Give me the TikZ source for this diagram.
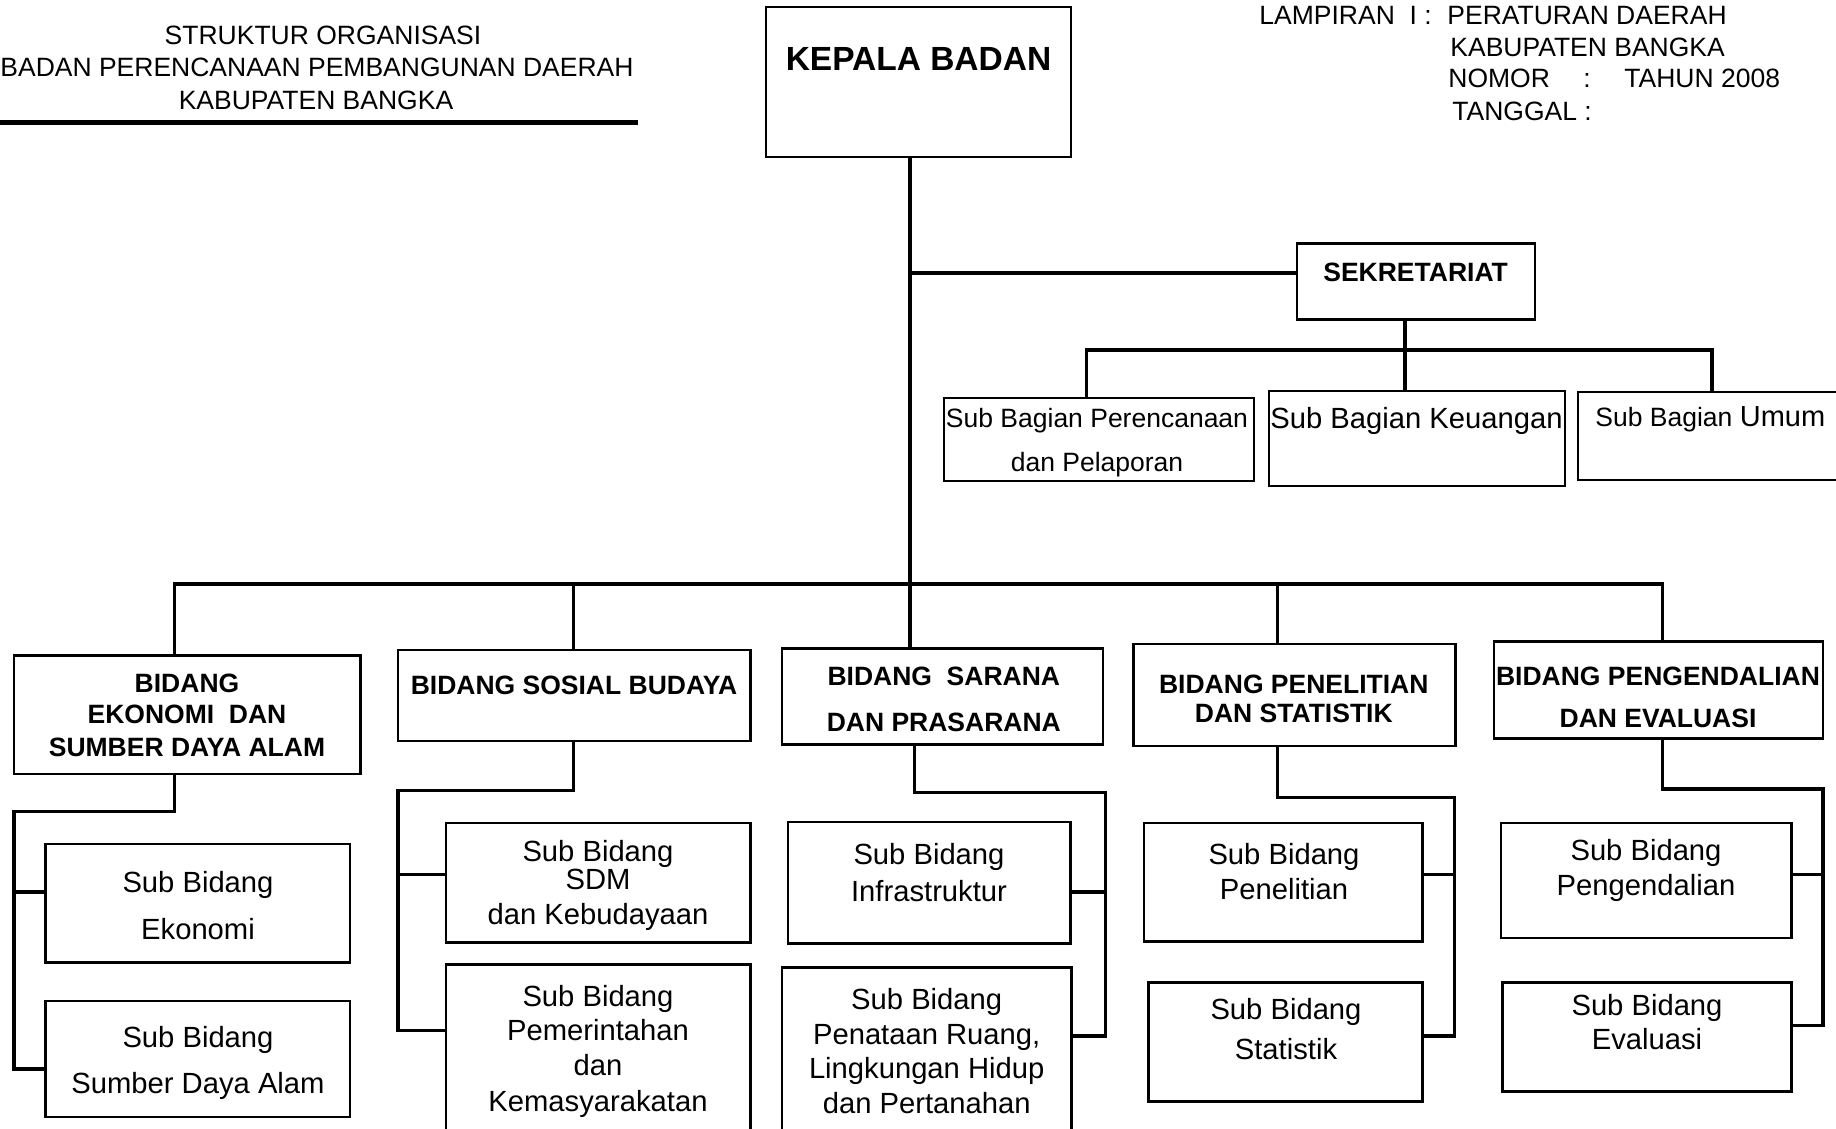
\documentclass[tikz,border=0pt]{standalone}
\usepackage{fontspec}
\setmainfont{Liberation Sans}
\usetikzlibrary{fit}
\newcounter{tn}
\newcommand\tline[4]{\stepcounter{tn}\node[#1] (t\arabic{tn}) at (#2,#3) {#4};}
\begin{document}
\begin{tikzpicture}[x=0.5pt,y=-0.5pt,
 bx/.style={draw, line width=1.35pt, inner sep=0pt},
 cn/.style={line width=1.75pt},
 nt/.style={inner sep=0pt, anchor=base, yshift=-4.74pt, font=\fontsize{13.25}{15}\selectfont},
 ntl/.style={nt, anchor=base west},
 bt/.style={nt, font=\fontsize{13.25}{15}\selectfont\bfseries},
 st/.style={inner sep=0pt, anchor=base, yshift=-5.23pt, font=\fontsize{14.6}{16}\selectfont},
 kt/.style={inner sep=0pt, anchor=base, yshift=-6pt, font=\fontsize{16.75}{18}\selectfont\bfseries}]
\useasboundingbox (0,0) rectangle (1836,1129);
\clip (0,0) rectangle (1836,1129);

% header left
\tline{nt}{323}{35}{STRUKTUR ORGANISASI}
\tline{nt}{317}{67}{BADAN PERENCANAAN PEMBANGUNAN DAERAH}
\tline{nt}{316}{100}{KABUPATEN BANGKA}
\draw[line width=2.5pt] (0,123) -- (638,123);

% header right
\tline{ntl}{1259}{15}{LAMPIRAN~~I :}
\tline{ntl}{1447}{15}{PERATURAN DAERAH}
\tline{ntl}{1450}{47}{KABUPATEN BANGKA}
\tline{ntl}{1448}{78}{NOMOR}
\tline{ntl}{1583}{78}{:}
\tline{ntl}{1624}{78}{TAHUN 2008}
\tline{ntl}{1452}{111}{TANGGAL :}

% boxes
\node[bx, fit={(766,7) (1071,157)}] (kepala) {};
\node[bx, fit={(1297,243.5) (1535,319.6)}] (sek) {};
\node[bx, fit={(944,398) (1254,481)}] (pren) {};
\node[bx, fit={(1269,391) (1565,486)}] (keu) {};
\node[bx, fit={(1578,392) (1850,480)}] (umum) {};

\node[bx, fit={(14,655.7) (360.6,774)}] (eko) {};
\node[bx, fit={(398,650) (750.5,741)}] (sos) {};
\node[bx, fit={(782,648.7) (1103,744.7)}] (sarana) {};
\node[bx, fit={(1133.4,644) (1455.4,745.9)}] (penel) {};
\node[bx, fit={(1494,641.6) (1823,738.8)}] (peng) {};

\node[bx, fit={(45.7,844) (350,962.5)}] (ekos) {};
\node[bx, fit={(45.7,1001) (350,1117)}] (sda) {};
\node[bx, fit={(446,823) (750.5,942.6)}] (sdm) {};
\node[bx, fit={(446,964.8) (750.5,1145)}] (pem) {};
\node[bx, fit={(788,822) (1070.2,943.7)}] (infra) {};
\node[bx, fit={(782,967.2) (1071.4,1145)}] (pena) {};
\node[bx, fit={(1144,823) (1422.6,941.4)}] (penels) {};
\node[bx, fit={(1148.7,982.4) (1422.6,1101.8)}] (stat) {};
\node[bx, fit={(1501,823) (1791.5,937.9)}] (pengs) {};
\node[bx, fit={(1502.3,982.4) (1791.5,1091.3)}] (eval) {};

% box texts
\tline{kt}{918.5}{58.5}{KEPALA BADAN}
\tline{bt}{1415.6}{271.6}{SEKRETARIAT}
\tline{nt}{1097}{418.3}{Sub Bagian Perencanaan}
\tline{nt}{1097}{461.7}{dan Pelaporan}
\tline{st}{1416.5}{418}{Sub Bagian Keuangan}
\tline{ntl}{1595}{417}{Sub Bagian {\fontsize{14.5}{16}\selectfont Umum}}

\tline{bt}{187}{682.6}{BIDANG}
\tline{bt}{187}{714}{EKONOMI~~DAN}
\tline{bt}{187}{747}{SUMBER DAYA ALAM}
\tline{bt}{574}{685.5}{BIDANG SOSIAL BUDAYA}
\tline{bt}{943.8}{675.6}{BIDANG~~SARANA}
\tline{bt}{943.8}{722}{DAN PRASARANA}
\tline{bt}{1293.8}{683.8}{BIDANG PENELITIAN}
\tline{bt}{1293.8}{713}{DAN STATISTIK}
\tline{bt}{1658}{675.6}{BIDANG PENGENDALIAN}
\tline{bt}{1658}{717.8}{DAN EVALUASI}

\tline{st}{198}{882}{Sub Bidang}
\tline{st}{198}{929}{Ekonomi}
\tline{st}{198}{1037.5}{Sub Bidang}
\tline{st}{198}{1083}{Sumber Daya Alam}
\tline{st}{598}{851.2}{Sub Bidang}
\tline{st}{598}{879.3}{SDM}
\tline{st}{598}{914.5}{dan Kebudayaan}
\tline{st}{598}{996.4}{Sub Bidang}
\tline{st}{598}{1030.4}{Pemerintahan}
\tline{st}{598}{1065.5}{dan}
\tline{st}{598}{1100.6}{Kemasyarakatan}
\tline{st}{929}{853.6}{Sub Bidang}
\tline{st}{929}{891}{Infrastruktur}
\tline{st}{926.7}{999}{Sub Bidang}
\tline{st}{926.7}{1034}{Penataan Ruang,}
\tline{st}{926.7}{1068}{Lingkungan Hidup}
\tline{st}{926.7}{1103}{dan Pertanahan}
\tline{st}{1284}{853.6}{Sub Bidang}
\tline{st}{1284}{888.7}{Penelitian}
\tline{st}{1286}{1009.3}{Sub Bidang}
\tline{st}{1286}{1049}{Statistik}
\tline{st}{1646}{850}{Sub Bidang}
\tline{st}{1646}{885.2}{Pengendalian}
\tline{st}{1647}{1004.6}{Sub Bidang}
\tline{st}{1647}{1038.6}{Evaluasi}

% connector coordinates
\coordinate (tx) at (910,0);
\coordinate (sy) at (0,273);
\coordinate (sx) at (1405,0);
\coordinate (sb1) at (1086.6,350);
\coordinate (sb2) at (1711.9,350);
\coordinate (mb1) at (174.5,584);
\coordinate (mb2) at (573.7,584);
\coordinate (mb4) at (1277.5,584);
\coordinate (mb5) at (1662.7,584);

% top level
\draw[cn] (kepala.south -| tx) -- (sarana.north -| tx);
\draw[cn] (tx |- sy) -- (sek.west |- sy);
\draw[cn] (sek.south -| sx) -- (keu.north -| sx);
\draw[cn] (pren.north -| sb1) -- (sb1) -- (sb2) -- (umum.north -| sb2);
\draw[cn] (eko.north -| mb1) -- (mb1) -- (mb5) -- (peng.north -| mb5);
\draw[cn] (mb2) -- (sos.north -| mb2);
\draw[cn] (mb4) -- (penel.north -| mb4);

% column 1
\coordinate (c1a) at (174.5,811.4);
\coordinate (c1b) at (14,811.4);
\coordinate (c1c) at (14,1069);
\coordinate (k1) at (14,892);
\draw[cn] (eko.south -| c1a) -- (c1a) -- (c1b) -- (c1c) -- (sda.west |- c1c);
\draw[cn] (k1) -- (ekos.west |- k1);
% column 2
\coordinate (c2a) at (573.7,790.4);
\coordinate (c2b) at (398,790.4);
\coordinate (c2c) at (398,1030.4);
\coordinate (k2) at (398,874.7);
\draw[cn] (sos.south -| c2a) -- (c2a) -- (c2b) -- (c2c) -- (pem.west |- c2c);
\draw[cn] (k2) -- (sdm.west |- k2);
% column 3
\coordinate (c3a) at (914.5,792.7);
\coordinate (c3b) at (1105.3,792.7);
\coordinate (c3c) at (1105.3,1036.2);
\coordinate (k3) at (1105.3,892.2);
\draw[cn] (sarana.south -| c3a) -- (c3a) -- (c3b) -- (c3c) -- (pena.east |- c3c);
\draw[cn] (k3) -- (infra.east |- k3);
% column 4
\coordinate (c4a) at (1277.5,797.4);
\coordinate (c4b) at (1454.3,797.4);
\coordinate (c4c) at (1454.3,1036.2);
\coordinate (k4) at (1454.3,874.7);
\draw[cn] (penel.south -| c4a) -- (c4a) -- (c4b) -- (c4c) -- (stat.east |- c4c);
\draw[cn] (k4) -- (penels.east |- k4);
% column 5
\coordinate (c5a) at (1662.7,789.2);
\coordinate (c5b) at (1823,789.2);
\coordinate (c5c) at (1823,1025.7);
\coordinate (k5) at (1823,874.7);
\draw[cn] (peng.south -| c5a) -- (c5a) -- (c5b) -- (c5c) -- (eval.east |- c5c);
\draw[cn] (k5) -- (pengs.east |- k5);
\end{tikzpicture}
\end{document}
